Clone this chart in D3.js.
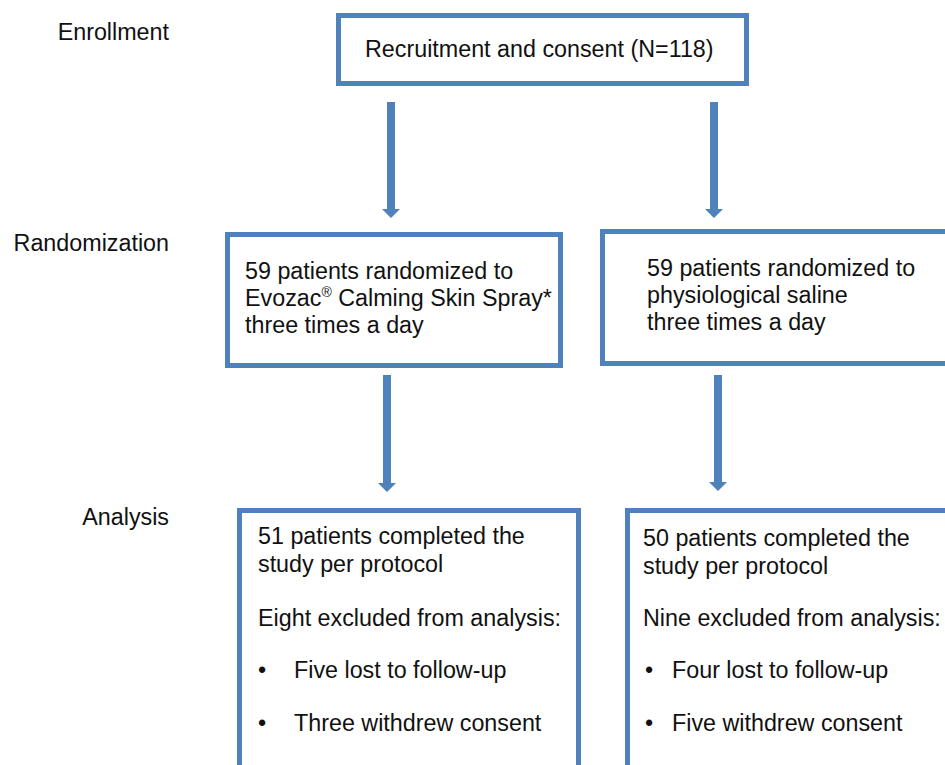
<!DOCTYPE html>
<html>
<head>
<meta charset="utf-8">
<script src="https://cdn.jsdelivr.net/npm/d3@7"></script>
<style>
  body { margin: 0; background: #fff; }
  svg text { font-family: Arial, "Liberation Sans", sans-serif; fill: #111; }
</style>
</head>
<body>
<div class="flow"></div>
<script>
// stage labels on the left
const stages = ["Enrollment", "Randomization", "Analysis"];
// box contents
const enrollLines = ["Recruitment and consent (N=118)"];
const armLeftLines = ["59 patients randomized to", "Evozac|® Calming Skin Spray*", "three times a day"];
const armRightLines = ["59 patients randomized to", "physiological saline", "three times a day"];
const outLeftMain = ["51 patients completed the", "study per protocol", "Eight excluded from analysis:"];
const outLeftBullets = ["Five lost to follow-up", "Three withdrew consent"];
const outRightMain = ["50 patients completed the", "study per protocol", "Nine excluded from analysis:"];
const outRightBullets = ["Four lost to follow-up", "Five withdrew consent"];

const width = 945;
const height = 765;
const blue = "#4f81bd";
const fs = 23.3;

const svg = d3.select('.flow')
	.append('svg')
	.attr('width', width)
	.attr('height', height);

// stage labels, right aligned
const stageY = [40, 251, 525];
svg.selectAll('text.stage')
	.data(stages)
	.enter()
	.append('text')
	.attr('class', 'stage')
	.attr('x', 169)
	.attr('y', (d, i) => stageY[i])
	.attr('text-anchor', 'end')
	.attr('font-size', fs)
	.text(d => d);

// boxes: outer edges [x0, y0, x1, y1]
const boxes = [
	[336, 13, 749, 86],
	[225, 232, 563, 368],
	[600, 229, 952, 366],
	[237, 508, 581, 800],
	[625, 508, 952, 800]
];
const sw = 5;
svg.selectAll('rect.box')
	.data(boxes)
	.enter()
	.append('rect')
	.attr('class', 'box')
	.attr('x', d => d[0] + sw / 2)
	.attr('y', d => d[1] + sw / 2)
	.attr('width', d => d[2] - d[0] - sw)
	.attr('height', d => d[3] - d[1] - sw)
	.attr('fill', 'none')
	.attr('stroke', blue)
	.attr('stroke-width', sw);

// arrows: [cx, yTop, yTip]
const arrows = [
	[391, 102, 218],
	[714, 102, 218],
	[387, 375, 492],
	[718, 375, 491]
];
const shaft = 4, head = 9, headH = 9;
svg.selectAll('path.arrow')
	.data(arrows)
	.enter()
	.append('path')
	.attr('class', 'arrow')
	.attr('fill', blue)
	.attr('d', d => {
		const [cx, y0, y1] = d;
		const yh = y1 - headH;
		return `M${cx - shaft},${y0}L${cx + shaft},${y0}L${cx + shaft},${yh}L${cx + head},${yh}` +
			`L${cx},${y1}L${cx - head},${yh}L${cx - shaft},${yh}Z`;
	});

function lines(x, ys, arr) {
	arr.forEach((t, i) => {
		const txt = svg.append('text')
			.attr('x', x)
			.attr('y', ys[i])
			.attr('font-size', fs);
		const parts = t.split('|');
		if (parts.length > 1) {
			txt.append('tspan').text(parts[0]);
			const sup = parts[1].slice(0, 1);
			txt.append('tspan').attr('font-size', 14).attr('dy', -9).text(sup);
			txt.append('tspan').attr('dy', 9).text(parts[1].slice(1));
		} else {
			txt.text(t);
		}
	});
}

lines(365, [57], enrollLines);
lines(245, [279, 306, 333], armLeftLines);
lines(647, [276, 303, 330], armRightLines);
lines(258, [544, 572, 626], outLeftMain);
lines(643, [546, 574, 626], outRightMain);

function bullets(xb, xt, ys, arr) {
	arr.forEach((t, i) => {
		svg.append('text').attr('x', xb).attr('y', ys[i]).attr('font-size', fs).text('•');
		svg.append('text').attr('x', xt).attr('y', ys[i]).attr('font-size', fs).text(t);
	});
}
bullets(258, 294, [678, 731], outLeftBullets);
bullets(645, 672, [678, 731], outRightBullets);
</script>
</body>
</html>
